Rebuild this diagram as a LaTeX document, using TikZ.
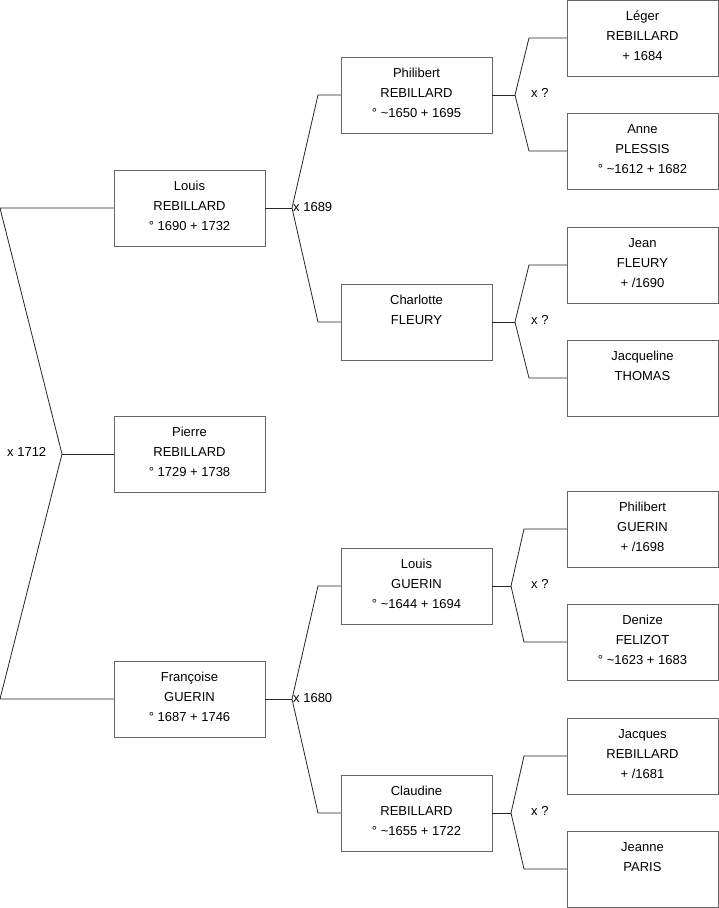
\documentclass[tikz,border=0pt]{standalone}
\usepackage{fontspec}
\setmainfont{Liberation Sans}
\begin{document}
\begin{tikzpicture}[x=1pt,y=-1pt,
  person/.style={draw=black!60,fill=white,minimum width=151pt,minimum height=76pt,inner sep=0pt},
  ptext/.style={anchor=north,inner sep=0pt,align=center,font=\fontsize{13}{20}\selectfont,yshift=-8pt},
  link/.style={draw=black!85,line width=0.8pt},
  lbl/.style={anchor=west,inner sep=0pt,font=\fontsize{13}{14}\selectfont}]
\useasboundingbox (0,0) rectangle (719,908);
\fill[white] (0,0) rectangle (719,908);
% generation 1
\node[person] (louis) at (189.5,208) {};
\node[person] (pierre) at (189.5,454) {};
\node[person] (fran) at (189.5,699) {};
% generation 2
\node[person] (phil) at (416.5,95) {};
\node[person] (charl) at (416.5,322) {};
\node[person] (lguer) at (416.5,586) {};
\node[person] (claud) at (416.5,813) {};
% generation 3
\node[person] (leger) at (642.5,38) {};
\node[person] (anne) at (642.5,151) {};
\node[person] (jean) at (642.5,265) {};
\node[person] (jacq) at (642.5,378) {};
\node[person] (pguer) at (642.5,529) {};
\node[person] (deniz) at (642.5,642) {};
\node[person] (jacrb) at (642.5,756) {};
\node[person] (jeann) at (642.5,869) {};
% texts
\node[ptext] (louist) at (louis.north) {\rule{0pt}{12pt}Louis\\REBILLARD\\° 1690 + 1732};
\node[ptext] (pierret) at (pierre.north) {\rule{0pt}{12pt}Pierre\\REBILLARD\\° 1729 + 1738};
\node[ptext] (frant) at (fran.north) {\rule{0pt}{12pt}Françoise\\GUERIN\\° 1687 + 1746};
\node[ptext] (philt) at (phil.north) {\rule{0pt}{12pt}Philibert\\REBILLARD\\° \textasciitilde1650 + 1695};
\node[ptext] (charlt) at (charl.north) {\rule{0pt}{12pt}Charlotte\\FLEURY};
\node[ptext] (lguert) at (lguer.north) {\rule{0pt}{12pt}Louis\\GUERIN\\° \textasciitilde1644 + 1694};
\node[ptext] (claudt) at (claud.north) {\rule{0pt}{12pt}Claudine\\REBILLARD\\° \textasciitilde1655 + 1722};
\node[ptext] (legert) at (leger.north) {\rule{0pt}{12pt}Léger\\REBILLARD\\+ 1684};
\node[ptext] (annet) at (anne.north) {\rule{0pt}{12pt}Anne\\PLESSIS\\° \textasciitilde1612 + 1682};
\node[ptext] (jeant) at (jean.north) {\rule{0pt}{12pt}Jean\\FLEURY\\+ /1690};
\node[ptext] (jacqt) at (jacq.north) {\rule{0pt}{12pt}Jacqueline\\THOMAS};
\node[ptext] (pguert) at (pguer.north) {\rule{0pt}{12pt}Philibert\\GUERIN\\+ /1698};
\node[ptext] (denizt) at (deniz.north) {\rule{0pt}{12pt}Denize\\FELIZOT\\° \textasciitilde1623 + 1683};
\node[ptext] (jacrbt) at (jacrb.north) {\rule{0pt}{12pt}Jacques\\REBILLARD\\+ /1681};
\node[ptext] (jeannt) at (jeann.north) {\rule{0pt}{12pt}Jeanne\\PARIS};
% bracket coordinates
\coordinate (a0) at (62,454);
\coordinate (a0u) at (0,208);
\coordinate (a0d) at (0,699);
\coordinate (b1) at (292,208);
\coordinate (b1u) at (318,95);
\coordinate (b1d) at (318,322);
\coordinate (b2) at (292,699);
\coordinate (b2u) at (318,586);
\coordinate (b2d) at (318,813);
\coordinate (c1) at (515,95);
\coordinate (c1u) at (529,38);
\coordinate (c1d) at (529,151);
\coordinate (c2) at (515,322);
\coordinate (c2u) at (529,265);
\coordinate (c2d) at (529,378);
\coordinate (c3) at (511,586);
\coordinate (c3u) at (524,529);
\coordinate (c3d) at (524,642);
\coordinate (c4) at (511,813);
\coordinate (c4u) at (524,756);
\coordinate (c4d) at (524,869);
% connectors
\draw[link] (louis.west) -- (a0u) -- (a0) -- (a0d) -- (fran.west);
\draw[link] (a0) -- (pierre.west);
\draw[link] (louis.east) -- (b1);
\draw[link] (phil.west) -- (b1u) -- (b1) -- (b1d) -- (charl.west);
\draw[link] (fran.east) -- (b2);
\draw[link] (lguer.west) -- (b2u) -- (b2) -- (b2d) -- (claud.west);
\draw[link] (phil.east) -- (c1);
\draw[link] (leger.west) -- (c1u) -- (c1) -- (c1d) -- (anne.west);
\draw[link] (charl.east) -- (c2);
\draw[link] (jean.west) -- (c2u) -- (c2) -- (c2d) -- (jacq.west);
\draw[link] (lguer.east) -- (c3);
\draw[link] (pguer.west) -- (c3u) -- (c3) -- (c3d) -- (deniz.west);
\draw[link] (claud.east) -- (c4);
\draw[link] (jacrb.west) -- (c4u) -- (c4) -- (c4d) -- (jeann.west);
% marriage labels
\node[lbl] (m0) at (7,452) {x 1712};
\node[lbl] (m1) at (293,207) {x 1689};
\node[lbl] (m2) at (293,698) {x 1680};
\node[lbl] (m3) at (531,93) {x ?};
\node[lbl] (m4) at (531,320) {x ?};
\node[lbl] (m5) at (531,584) {x ?};
\node[lbl] (m6) at (531,811) {x ?};
\end{tikzpicture}
\end{document}
